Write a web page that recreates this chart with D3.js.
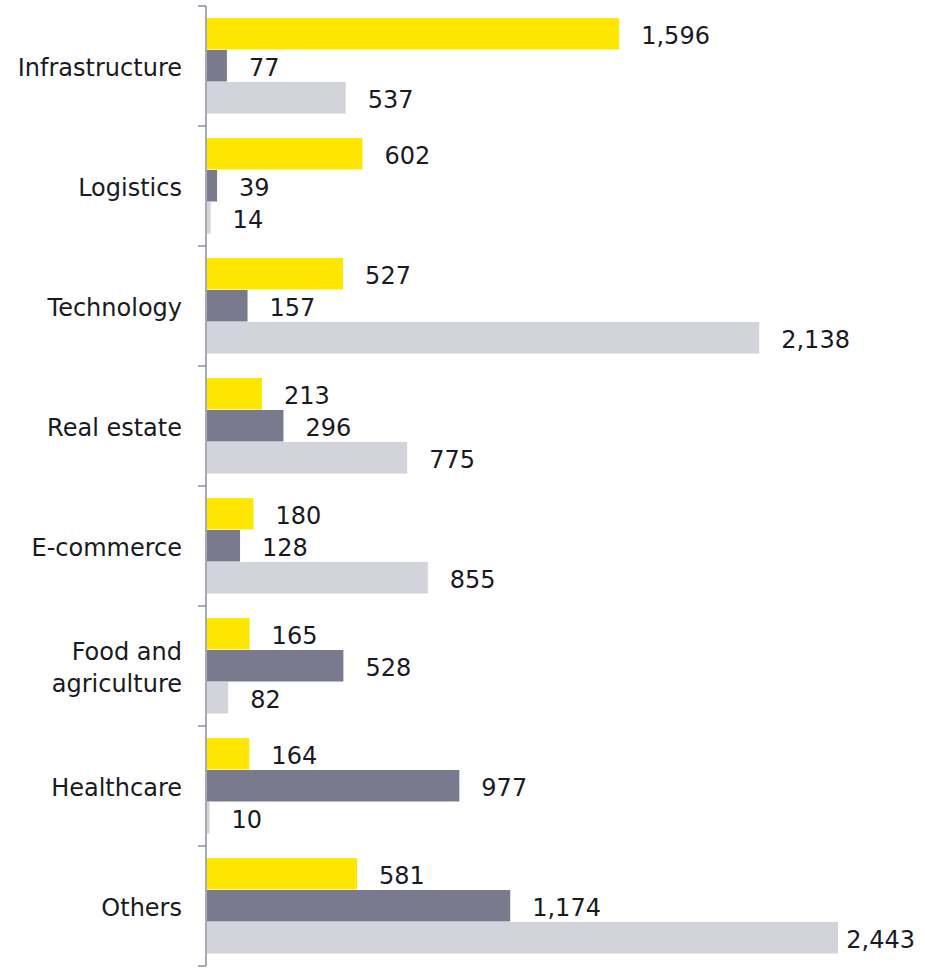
<!DOCTYPE html>
<html>
<head>
<meta charset="utf-8">
<script src="https://cdn.jsdelivr.net/npm/d3@7"></script>
<style>
  html, body { margin: 0; padding: 0; background: #fff; }
  svg text { font-family: "DejaVu Sans", sans-serif; fill: #1a1a24; }
</style>
</head>
<body>
<svg id="chart" width="925" height="970"></svg>
<script>
const categories = ["Infrastructure", "Logistics", "Technology", "Real estate", "E-commerce", "Food and agriculture", "Healthcare", "Others"];
const categoryLines = [["Infrastructure"], ["Logistics"], ["Technology"], ["Real estate"], ["E-commerce"], ["Food and", "agriculture"], ["Healthcare"], ["Others"]];
const seriesNames = ["Series 1", "Series 2", "Series 3"];
const series1 = [1596, 602, 527, 213, 180, 165, 164, 581];
const series2 = [77, 39, 157, 296, 128, 528, 977, 1174];
const series3 = [537, 14, 2138, 775, 855, 82, 10, 2443];
const colors = ["#FFE600", "#7A7A8F", "#D3D3DC"];

const svg = d3.select("#chart");
const W = 925, H = 970;
const margin = { top: 6, right: 10, bottom: 4, left: 206 };
const innerW = W - margin.left - margin.right;
const innerH = H - margin.top - margin.bottom;
const g = svg.append("g").attr("transform", `translate(${margin.left},${margin.top})`);

// 2443 -> ~631px
const x = d3.scaleLinear().domain([0, 2443 * innerW / 631]).range([0, innerW]);

const y = d3.scaleBand().domain(categories).range([0, innerH]).paddingInner(0).paddingOuter(0);
const ySub = d3.scaleBand().domain(seriesNames).range([12, y.bandwidth() - 12]).padding(0);

const allSeries = [series1, series2, series3];
const rows = [];
categories.forEach((c, i) => {
  allSeries.forEach((s, j) => rows.push({ cat: c, ser: seriesNames[j], value: s[i], color: colors[j] }));
});

g.selectAll("rect.bar").data(rows).join("rect")
  .attr("class", "bar")
  .attr("x", x(0) + 1)
  .attr("y", d => y(d.cat) + ySub(d.ser))
  .attr("width", d => x(d.value) - x(0))
  .attr("height", ySub.bandwidth() - 0.5)
  .attr("fill", d => d.color);

const fmt = d3.format(",");
const gap = 23;
const maxRight = W - margin.left - 10;
g.selectAll("text.val").data(rows).join("text")
  .attr("class", "val")
  .attr("font-size", 24)
  .attr("dy", "0.42em")
  .attr("y", d => y(d.cat) + ySub(d.ser) + ySub.bandwidth() / 2)
  .text(d => fmt(d.value))
  .each(function (d) {
    const w = this.getComputedTextLength();
    let xx = x(d.value) + gap;
    if (xx + w > maxRight) xx = maxRight - w;
    d3.select(this).attr("x", xx);
  });

// axis
const axisColor = "#8C8C9C";
g.append("line").attr("x1", 0).attr("x2", 0).attr("y1", 0).attr("y2", innerH)
  .attr("stroke", axisColor).attr("stroke-width", 1.5);
const bounds = categories.map(c => y(c)).concat([innerH]);
g.selectAll("line.tick").data(bounds).join("line")
  .attr("class", "tick")
  .attr("x1", -8).attr("x2", 0)
  .attr("y1", d => d).attr("y2", d => d)
  .attr("stroke", axisColor).attr("stroke-width", 1.5);

// category labels
categories.forEach((c, i) => {
  const lines = categoryLines[i];
  const cy = y(c) + y.bandwidth() / 2;
  const lh = 32;
  const t = g.append("text").attr("text-anchor", "end").attr("font-size", 24)
    .attr("x", -24);
  lines.forEach((ln, k) => {
    t.append("tspan").attr("x", -24)
      .attr("y", cy + (k - (lines.length - 1) / 2) * lh)
      .attr("dy", "0.4em").text(ln);
  });
});
</script>
</body>
</html>
